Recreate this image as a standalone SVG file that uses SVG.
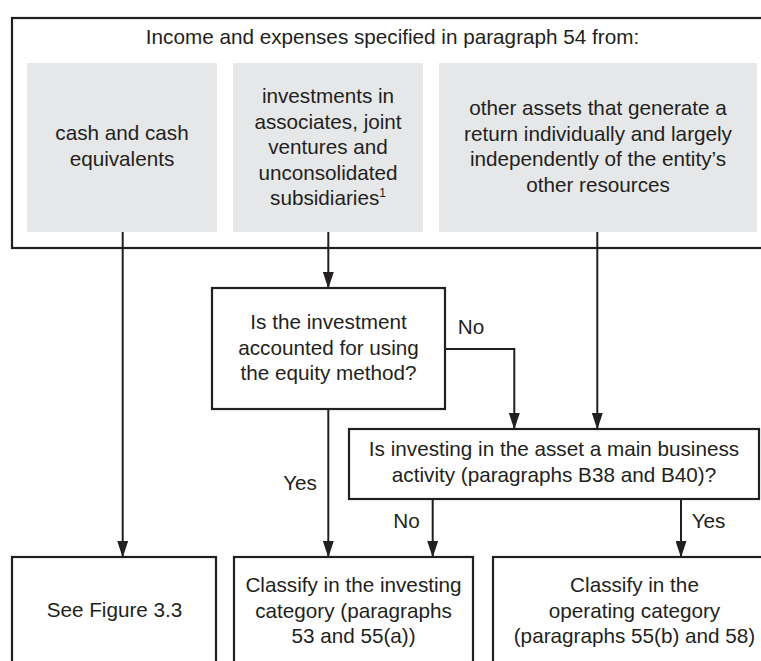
<svg xmlns="http://www.w3.org/2000/svg" width="761" height="661" viewBox="0 0 761 661">
<style>
text{font-family:"Liberation Sans",Arial,Helvetica,sans-serif;font-size:20.7px;fill:#231f20;text-anchor:middle}
.box{fill:#fff;stroke:#231f20;stroke-width:2.2}
.gray{fill:#e6e7e8;stroke:none}
.con{fill:none;stroke:#231f20;stroke-width:2}
.sup{font-size:12px}
</style>
<defs>
<marker id="ah" markerUnits="userSpaceOnUse" markerWidth="17" markerHeight="11" refX="16" refY="5.5" orient="auto">
<path d="M0,0 L16.5,5.5 L0,11 z" fill="#231f20"/>
</marker>
</defs>
<rect width="761" height="661" fill="#fff"/>
<g id="source">
<rect class="box" x="12" y="18" width="800" height="230"/>
<text x="392.5" y="44">Income and expenses specified in paragraph 54 from:</text>
</g>
<g id="cash">
<rect class="gray" x="27" y="63" width="190" height="169"/>
<text x="122" y="140">cash and cash</text>
<text x="122" y="166">equivalents</text>
</g>
<g id="investments">
<rect class="gray" x="233" y="63" width="190" height="169"/>
<text x="328" y="103">investments in</text>
<text x="328" y="128.5">associates, joint</text>
<text x="328" y="154">ventures and</text>
<text x="328" y="179.5">unconsolidated</text>
<text x="328" y="205">subsidiaries<tspan class="sup" dy="-8">1</tspan></text>
</g>
<g id="other">
<rect class="gray" x="439" y="63" width="318" height="169"/>
<text x="598" y="115">other assets that generate a</text>
<text x="598" y="140.5">return individually and largely</text>
<text x="598" y="166">independently of the entity’s</text>
<text x="598" y="191.5">other resources</text>
</g>
<g id="q-equity">
<rect class="box" x="212" y="288" width="233" height="121"/>
<text x="328.5" y="329">Is the investment</text>
<text x="328.5" y="354.5">accounted for using</text>
<text x="328.5" y="380">the equity method?</text>
</g>
<g id="q-main">
<rect class="box" x="349" y="429" width="410" height="70"/>
<text x="554" y="456">Is investing in the asset a main business</text>
<text x="554" y="481.5">activity (paragraphs B38 and B40)?</text>
</g>
<g id="figure">
<rect class="box" x="12" y="557" width="204" height="150"/>
<text x="114.5" y="617">See Figure 3.3</text>
</g>
<g id="investing">
<rect class="box" x="234" y="557" width="239" height="150"/>
<text x="353.5" y="592">Classify in the investing</text>
<text x="353.5" y="617.5">category (paragraphs</text>
<text x="353.5" y="643">53 and 55(a))</text>
</g>
<g id="operating">
<rect class="box" x="493" y="557" width="300" height="150"/>
<text x="634.5" y="592">Classify in the</text>
<text x="634.5" y="617.5">operating category</text>
<text x="634.5" y="643">(paragraphs 55(b) and 58)</text>
</g>
<g id="connectors">
<line class="con" x1="122.7" y1="232" x2="122.7" y2="557" marker-end="url(#ah)"/>
<line class="con" x1="328.3" y1="232" x2="328.3" y2="288" marker-end="url(#ah)"/>
<line class="con" x1="597.3" y1="232" x2="597.3" y2="429" marker-end="url(#ah)"/>
<polyline class="con" points="445,349 514.3,349 514.3,429" marker-end="url(#ah)"/>
<line class="con" x1="328.3" y1="409" x2="328.3" y2="557" marker-end="url(#ah)"/>
<line class="con" x1="432.7" y1="499" x2="432.7" y2="557" marker-end="url(#ah)"/>
<line class="con" x1="681" y1="499" x2="681" y2="557" marker-end="url(#ah)"/>
<text x="471" y="334">No</text>
<text x="300" y="490">Yes</text>
<text x="406.5" y="528">No</text>
<text x="708.5" y="528">Yes</text>
</g>
</svg>
